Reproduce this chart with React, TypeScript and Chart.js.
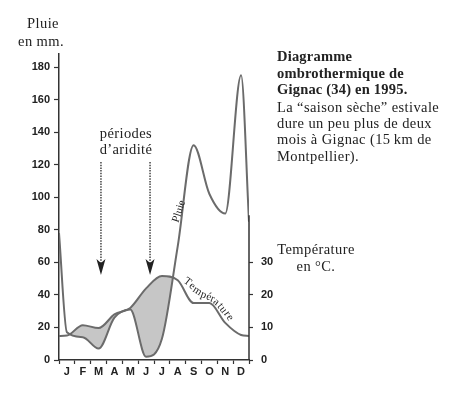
import React, { useEffect, useRef } from "react";
import { Chart, registerables } from "chart.js";

Chart.register(...registerables);

// ---- data ----
const MONTHS = ["J", "F", "M", "A", "M", "J", "J", "A", "S", "O", "N", "D"];
const PLUIE_MM = [17, 14, 7, 26, 31, 2, 13, 70, 132, 102, 90, 175];
const TEMP_C = [7.5, 10.7, 9.8, 14, 16, 22, 25.8, 24.5, 17.5, 17.5, 11.4, 7.7];
const PLUIE_START = 78; // value at the start of January
const PLUIE_END = 85; // value at the end of December
const TEMP_START = 7.4;
const TEMP_END = 7.4;
const PLUIE_TICKS = [0, 20, 40, 60, 80, 100, 120, 140, 160, 180];
const TEMP_TICKS = [0, 10, 20, 30];
const PLUIE_MAX = 188;
const RIGHT_AXIS_TOP_MM = 89;
const ARROW_MONTHS = [2.65, 5.75];

const INK = "#222";
const AXIS = "#333";
const CURVE = "#6b6b6b";
const FILL = "#c6c6c6";
const SERIF = "'Liberation Serif', 'DejaVu Serif', serif";
const SANS = "'Liberation Sans', Arial, sans-serif";

function series(start: number, vals: number[], end: number) {
  return [
    { x: 0, y: start },
    ...vals.map((v, i) => ({ x: i + 0.5, y: v })),
    { x: vals.length, y: end },
  ];
}

const decorPlugin = {
  id: "decor",
  afterDraw(chart: any) {
    const { ctx, chartArea, scales } = chart;
    ctx.save();
    // partial right axis
    ctx.strokeStyle = AXIS;
    ctx.lineWidth = 1.5;
    ctx.beginPath();
    ctx.moveTo(chartArea.right, scales.y.getPixelForValue(0));
    ctx.lineTo(chartArea.right, scales.y.getPixelForValue(RIGHT_AXIS_TOP_MM));
    ctx.stroke();
    // arrows
    ARROW_MONTHS.forEach((m) => {
      const x = scales.x.getPixelForValue(m);
      ctx.strokeStyle = "#444";
      ctx.lineWidth = 1.5;
      ctx.setLineDash([1.5, 1.2]);
      ctx.beginPath();
      ctx.moveTo(x, 162);
      ctx.lineTo(x, 264);
      ctx.stroke();
      ctx.setLineDash([]);
      ctx.fillStyle = "#222";
      ctx.beginPath();
      ctx.moveTo(x, 275);
      ctx.lineTo(x - 4.5, 259);
      ctx.lineTo(x, 263);
      ctx.lineTo(x + 4.5, 259);
      ctx.closePath();
      ctx.fill();
    });
    ctx.restore();
  },
};

const txt = (
  s: string,
  left: number,
  cy: number,
  extra: React.CSSProperties = {}
) => (
  <div
    key={s + left + cy}
    style={{
      position: "absolute",
      left,
      top: cy - 8,
      height: 16,
      lineHeight: "16px",
      fontFamily: SERIF,
      fontSize: 14.5,
      letterSpacing: "0.4px",
      color: INK,
      whiteSpace: "nowrap",
      ...extra,
    }}
  >
    {s}
  </div>
);

const centered = (s: string, cx: number, cy: number, extra: React.CSSProperties = {}) =>
  txt(s, cx - 100, cy, { width: 200, textAlign: "center", ...extra });

const BOLD: React.CSSProperties = { fontWeight: "bold", letterSpacing: "0.2px" };

// letters of the curved "Température" label: [char, x, y, rotation]
const TEMP_LABEL: [string, number, number, number][] = [
  ["T", 188, 281, 38],
  ["e", 193, 285, 38],
  ["m", 198, 290, 33],
  ["p", 204, 294, 20],
  ["é", 209, 296, 14],
  ["r", 213, 298, 22],
  ["a", 217, 301, 38],
  ["t", 220.5, 305, 50],
  ["u", 224, 309, 54],
  ["r", 227.5, 313, 56],
  ["e", 230.5, 317, 56],
];

export default function App() {
  const ref = useRef<HTMLCanvasElement>(null);

  useEffect(() => {
    if (!ref.current) return;
    const chart = new Chart(ref.current, {
      type: "line",
      data: {
        datasets: [
          {
            label: "Température",
            data: series(TEMP_START, TEMP_C, TEMP_END),
            yAxisID: "y1",
            borderColor: CURVE,
            borderWidth: 2,
            pointRadius: 0,
            cubicInterpolationMode: "monotone",
            fill: false,
          },
          {
            label: "Pluie",
            data: series(PLUIE_START, PLUIE_MM, PLUIE_END),
            yAxisID: "y",
            borderColor: CURVE,
            borderWidth: 2,
            pointRadius: 0,
            cubicInterpolationMode: "monotone",
            fill: { target: 0, above: "rgba(0,0,0,0)", below: FILL },
          },
        ],
      },
      options: {
        animation: false,
        responsive: false,
        devicePixelRatio: 1,
        layout: { padding: { top: 54, left: 0, right: 0, bottom: 0 } },
        plugins: { legend: { display: false }, tooltip: { enabled: false } },
        scales: {
          x: {
            type: "linear",
            position: "bottom",
            min: 0,
            max: MONTHS.length,
            afterBuildTicks: (s: any) => {
              s.ticks = Array.from({ length: MONTHS.length * 2 + 1 }, (_, i) => ({ value: i / 2 }));
            },
            afterFit: (s: any) => {
              s.height = 33;
            },
            grid: {
              drawOnChartArea: false,
              tickLength: 4,
              tickWidth: 1.2,
              tickColor: (c: any) =>
                c.tick && Number.isInteger(c.tick.value) ? AXIS : "rgba(0,0,0,0)",
            },
            border: { color: AXIS, width: 1.5 },
            ticks: {
              autoSkip: false,
              maxRotation: 0,
              padding: 1,
              color: INK,
              font: { family: SANS, size: 11, weight: "bold" },
              callback: (v: any) => {
                const n = Number(v);
                return Number.isInteger(n) ? "" : MONTHS[Math.floor(n)];
              },
            },
          },
          y: {
            position: "left",
            min: 0,
            max: PLUIE_MAX,
            afterBuildTicks: (s: any) => {
              s.ticks = PLUIE_TICKS.map((v) => ({ value: v }));
            },
            afterFit: (s: any) => {
              s.width = 59;
            },
            grid: { drawOnChartArea: false, tickLength: 5, tickColor: AXIS, tickWidth: 1.2 },
            border: { color: AXIS, width: 1.5 },
            ticks: {
              padding: 4,
              color: INK,
              font: { family: SANS, size: 11, weight: "bold" },
            },
          },
          y1: {
            position: "right",
            min: 0,
            max: PLUIE_MAX / 2,
            afterBuildTicks: (s: any) => {
              s.ticks = TEMP_TICKS.map((v) => ({ value: v }));
            },
            afterFit: (s: any) => {
              s.width = 201;
            },
            grid: { drawOnChartArea: false, tickLength: 4, tickColor: AXIS, tickWidth: 1.2 },
            border: { display: false },
            ticks: {
              padding: 8,
              color: INK,
              font: { family: SANS, size: 11, weight: "bold" },
            },
          },
        },
      },
      plugins: [decorPlugin],
    } as any);
    return () => chart.destroy();
  }, []);

  return (
    <div style={{ position: "absolute", left: 0, top: 0, width: 450, height: 393, background: "#fff" }}>
      <canvas ref={ref} width={450} height={393} style={{ position: "absolute", left: 0, top: 0 }} />
      {centered("Pluie", 43, 23)}
      {centered("en mm.", 41, 41)}
      {centered("périodes", 126, 133)}
      {centered("d’aridité", 126, 149)}
      {centered("Température", 316, 249)}
      {centered("en °C.", 316, 266)}
      {txt("Diagramme", 277, 56, BOLD)}
      {txt("ombrothermique de", 277, 73, BOLD)}
      {txt("Gignac (34) en 1995.", 277, 89, BOLD)}
      {txt("La “saison sèche” estivale", 277, 107)}
      {txt("dure un peu plus de deux", 277, 123)}
      {txt("mois à Gignac (15\u2009km de", 277, 139)}
      {txt("Montpellier).", 277, 156)}
      <div
        style={{
          position: "absolute",
          left: 178 - 20,
          top: 211 - 7,
          width: 40,
          height: 14,
          lineHeight: "14px",
          textAlign: "center",
          fontFamily: SERIF,
          fontSize: 11,
          color: INK,
          transform: "rotate(-72deg)",
        }}
      >
        Pluie
      </div>
      {TEMP_LABEL.map(([ch, x, y, r], i) => (
        <div
          key={i}
          style={{
            position: "absolute",
            left: x - 6,
            top: y - 7,
            width: 12,
            height: 14,
            lineHeight: "14px",
            textAlign: "center",
            fontFamily: SERIF,
            fontSize: 11,
            color: INK,
            transform: `rotate(${r}deg)`,
          }}
        >
          {ch}
        </div>
      ))}
    </div>
  );
}
